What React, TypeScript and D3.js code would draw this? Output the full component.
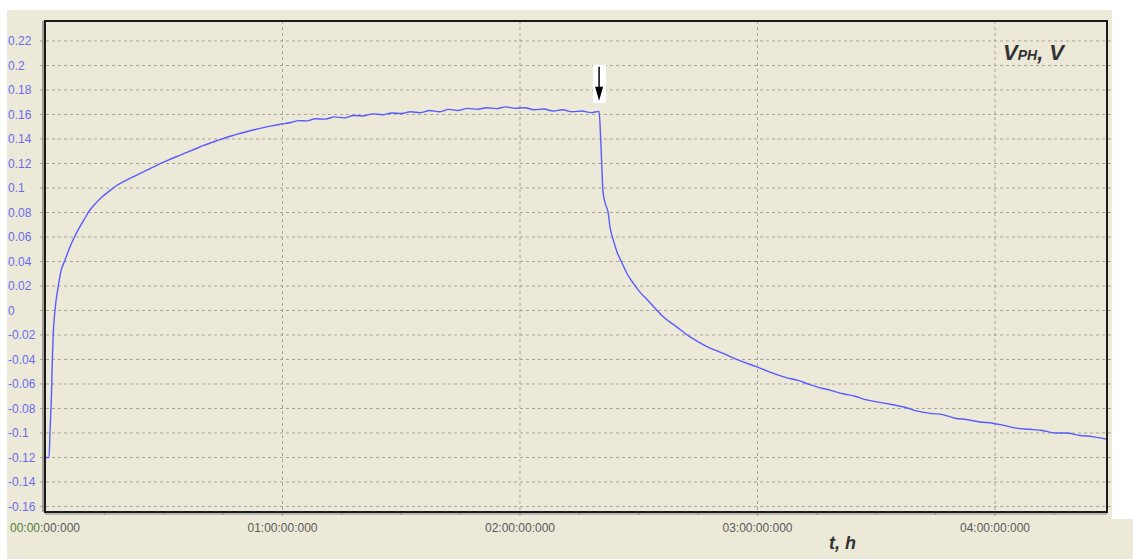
import React from "react";
import * as d3 from "d3";

// time in hours, voltage in V
const times: number[] = [
  0.0, 0.004, 0.017, 0.021, 0.027, 0.031, 0.035, 0.042, 0.056, 0.067, 0.084, 0.101, 0.119,
  0.143, 0.164, 0.189, 0.211, 0.239, 0.269, 0.302, 0.341, 0.386, 0.413, 0.442, 0.476, 0.512,
  0.552, 0.597, 0.632, 0.665, 0.70, 0.73, 0.76, 0.80, 0.84, 0.88, 0.92, 0.95, 0.99, 1.03,
  1.07, 1.10, 1.14, 1.18, 1.22, 1.26, 1.30, 1.34, 1.38, 1.42, 1.46, 1.50, 1.54, 1.58, 1.62,
  1.66, 1.70, 1.74, 1.78, 1.82, 1.86, 1.90, 1.94, 1.98, 2.02, 2.06, 2.10, 2.14, 2.18, 2.22,
  2.26, 2.30, 2.333, 2.340, 2.345, 2.349, 2.358, 2.371, 2.379, 2.392, 2.408, 2.429, 2.451,
  2.476, 2.505, 2.535, 2.568, 2.602, 2.657, 2.716, 2.783, 2.855, 2.926, 2.998, 3.061, 3.124,
  3.17, 3.213, 3.26, 3.305, 3.36, 3.411, 3.46, 3.516, 3.57, 3.621, 3.67, 3.726, 3.78, 3.832,
  3.88, 3.937, 3.99, 4.042, 4.09, 4.147, 4.20, 4.253, 4.30, 4.358, 4.41, 4.468,
];
const volts: number[] = [
  -0.12, -0.12, -0.12, -0.10, -0.07, -0.04, -0.018, 0.0, 0.02, 0.032, 0.041, 0.05, 0.058,
  0.067, 0.074, 0.082, 0.087, 0.0925, 0.0972, 0.102, 0.1062, 0.1105, 0.113, 0.1158, 0.119, 0.1222,
  0.1255, 0.129, 0.1318, 0.1345, 0.137, 0.139, 0.141, 0.1433, 0.1455, 0.1475, 0.1493, 0.1505, 0.152, 0.1532,
  0.155, 0.1548, 0.1565, 0.1562, 0.158, 0.1572, 0.1592, 0.1588, 0.1605, 0.1598, 0.1612, 0.1608, 0.1622, 0.1615, 0.1632,
  0.1622, 0.1642, 0.1633, 0.165, 0.1642, 0.1655, 0.1648, 0.1662, 0.165, 0.1655, 0.1638, 0.1645, 0.1628, 0.1638, 0.1622,
  0.1628, 0.1615, 0.1625, 0.139, 0.115, 0.098, 0.088, 0.08, 0.068, 0.058, 0.048, 0.039, 0.03,
  0.0225, 0.015, 0.009, 0.002, -0.005, -0.013, -0.0216, -0.029, -0.035, -0.041, -0.046, -0.051, -0.055,
  -0.057, -0.06, -0.063, -0.065, -0.068, -0.07, -0.073, -0.075, -0.077, -0.079, -0.082, -0.084, -0.085, -0.088,
  -0.089, -0.091, -0.092, -0.094, -0.096, -0.097, -0.098, -0.1, -0.1, -0.102, -0.103, -0.105,
];

const yTicks: number[] = [
  -0.16, -0.14, -0.12, -0.1, -0.08, -0.06, -0.04, -0.02, 0, 0.02, 0.04, 0.06, 0.08, 0.1, 0.12,
  0.14, 0.16, 0.18, 0.2, 0.22,
];
const yTickLabels: string[] = [
  "-0.16", "-0.14", "-0.12", "-0.1", "-0.08", "-0.06", "-0.04", "-0.02", "0", "0.02", "0.04",
  "0.06", "0.08", "0.1", "0.12", "0.14", "0.16", "0.18", "0.2", "0.22",
];
const xTicks: number[] = [0, 1, 2, 3, 4];
const xTickLabels: string[] = [
  "00:00:00:000", "01:00:00:000", "02:00:00:000", "03:00:00:000", "04:00:00:000",
];
const xMinorTicks: number[] = [
  0.25, 0.5, 0.75, 1.25, 1.5, 1.75, 2.25, 2.5, 2.75, 3.25, 3.5, 3.75, 4.25,
];
const arrowTime = 2.333;
const arrowValue = 0.163;

const W = 1133;
const H = 559;
const BG = "#ECE9D8";
const FONT = "'Liberation Sans', Arial, sans-serif";

export default function App() {
  const x = d3.scaleLinear().domain([0, 4.4716]).range([45, 1107]);
  const y = d3.scaleLinear().domain([-0.1645, 0.2363]).range([512, 21]);
  const [x0, x1] = x.range();
  const [yb, yt] = y.range();

  const pts: [number, number][] = times.map((t, i) => [t, volts[i]]);
  const line = d3
    .line<[number, number]>()
    .x((d) => x(d[0]))
    .y((d) => y(d[1]))
    .curve(d3.curveMonotoneX);

  const ax = x(arrowTime);
  const ay = y(arrowValue);

  return (
    <svg
      width={W}
      height={H}
      style={{ position: "absolute", left: 0, top: 0, background: "#fff" }}
      fontFamily={FONT}
    >
      <rect x={7} y={10} width={1105} height={549} fill={BG} />
      <rect x={1112} y={519} width={21} height={40} fill={BG} />

      {/* horizontal grid */}
      {yTicks.map((v, i) => (
        <line
          key={"hg" + i}
          x1={x0 - 5}
          x2={x1}
          y1={y(v)}
          y2={y(v)}
          stroke="#a6a39a"
          strokeWidth={1}
          strokeDasharray="3,3"
        />
      ))}
      {/* vertical grid */}
      {xTicks.slice(1).map((t, i) => (
        <line
          key={"vg" + i}
          x1={x(t)}
          x2={x(t)}
          y1={yt}
          y2={yb + 5}
          stroke="#a6a39a"
          strokeWidth={1}
          strokeDasharray="3,3"
        />
      ))}
      {/* minor x ticks */}
      {xMinorTicks.map((t, i) => (
        <line
          key={"mt" + i}
          x1={x(t)}
          x2={x(t)}
          y1={yb}
          y2={yb + 3}
          stroke="#a6a39a"
          strokeWidth={1}
        />
      ))}
      {/* right axis ticks */}
      {yTicks.map((v, i) => (
        <line
          key={"rt" + i}
          x1={x1}
          x2={x1 + 4}
          y1={y(v)}
          y2={y(v)}
          stroke="#a6a39a"
          strokeWidth={1}
        />
      ))}

      {/* data line */}
      <path d={line(pts) || ""} fill="none" stroke="#5a5aff" strokeWidth={1.4} strokeLinejoin="round" />

      {/* frame */}
      <rect
        x={x0}
        y={yt}
        width={x1 - x0}
        height={yb - yt}
        fill="none"
        stroke="#1a1a1a"
        strokeWidth={2}
      />
      <line x1={x0} x2={x0} y1={yt} y2={yb} stroke="#555" strokeWidth={1} transform="translate(-2,0)" />
      <line x1={x0} x2={x1} y1={yb + 2} y2={yb + 2} stroke="#888" strokeWidth={1} />

      {/* y tick labels */}
      {yTicks.map((v, i) => (
        <text
          key={"yl" + i}
          x={8}
          y={y(v)}
          dy="0.35em"
          fontSize={12}
          fill="#6b6bf0"
        >
          {yTickLabels[i]}
        </text>
      ))}

      {/* x tick labels */}
      {xTicks.map((t, i) => (
        <text
          key={"xl" + i}
          x={x(t)}
          y={532}
          textAnchor="middle"
          fontSize={12}
          fill="#5a5a5a"
        >
          {i === 0 ? (
            <>
              <tspan fill="#4f7f3a">{xTickLabels[i].slice(0, 5)}</tspan>
              <tspan>{xTickLabels[i].slice(5)}</tspan>
            </>
          ) : (
            xTickLabels[i]
          )}
        </text>
      ))}

      {/* axis titles */}
      <text x={1003} y={60} fontSize={22} fontWeight="bold" fontStyle="italic" fill="#333">
        V
        <tspan fontSize={14}>PH</tspan>
        <tspan>, V</tspan>
      </text>
      <text x={829} y={549} fontSize={18} fontWeight="bold" fontStyle="italic" fill="#333">
        t, h
      </text>

      {/* arrow */}
      <rect x={ax - 6} y={ay - 46} width={13} height={38} fill="#fff" />
      <line x1={ax} x2={ax} y1={ay - 44} y2={ay - 20} stroke="#000" strokeWidth={1.5} />
      <path
        d={`M${ax - 4},${ay - 24} L${ax + 4},${ay - 24} L${ax},${ay - 10} Z`}
        fill="#000"
      />
    </svg>
  );
}
